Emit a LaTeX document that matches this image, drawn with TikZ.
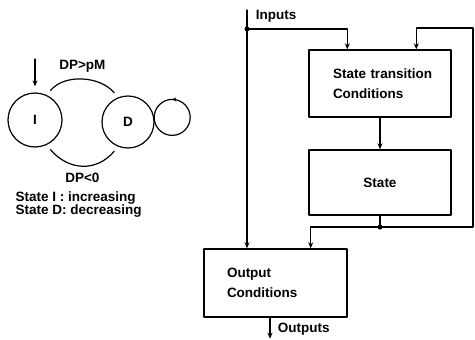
\documentclass[tikz,border=0pt]{standalone}
\usepackage{fontspec}
\setmainfont{Liberation Sans}
\usetikzlibrary{arrows.meta,decorations.markings}
\begin{document}
\begin{tikzpicture}[line join=round,line cap=round,x=1pt,y=1pt,>={Stealth[length=6pt,width=5pt]},line width=1.2pt,
	font=\fontsize{13.5}{20}\selectfont\bfseries,
	state/.style={draw,circle,inner sep=0pt},
	block/.style={draw,rectangle,line width=1.4pt}]
	\useasboundingbox (0,0) rectangle (475,-340);
	% state diagram
	\node[state,minimum size=54pt] (I) at (35,-120) {I};
	\node[state,minimum size=52pt] (D) at (128,-122) {D};
	\coordinate (init) at (35,-59);
	\draw[->,shorten >=6pt] (init)--(I.north);
	\draw[shorten >=6pt,shorten <=6pt] (I.65) to[out=50,in=130] node[above=4pt]{DP>pM} (D.112);
	\draw[shorten >=6pt,shorten <=6pt] (I.-65) to[out=-50,in=-130,looseness=1.2] node[below=4pt]{DP<0} (D.-112);
	\draw[postaction={decorate},decoration={markings,mark=at position 0.75 with {\arrow{Stealth[length=4pt,width=4pt]}}}]
		(D.10) arc[start angle=180,end angle=540,radius=18];
	\node[anchor=west,align=left,inner sep=0pt,font=\fontsize{13.5}{13}\selectfont\bfseries] (legend) at (15,-205) {State I : increasing\\State D: decreasing};
	% block diagram
	\node[block,minimum height=67pt,text width=94pt,inner xsep=24pt,align=left] (trans) at (380,-83.5) {\mbox{State transition}\\Conditions};
	\node[block,minimum width=142pt,minimum height=65pt] (st) at (380,-182.5) {State};
	\node[block,minimum height=68pt,text width=97pt,inner xsep=23pt,align=left] (out) at (275.5,-283) {Output\\Conditions};
	\coordinate (in) at (247,-10);
	\coordinate (j1) at (247,-29);
	\node[anchor=west] (inlabel) at (252,-16) {Inputs};
	\draw (in)--(j1);
	\draw[->] (j1) -| ([xshift=39pt]trans.north west);
	\draw[->] (j1)--(j1 |- out.north);
	\draw[->] (trans)--(st);
	\coordinate (j2) at (380,-227);
	\coordinate (fbr) at (473,-227);
	\coordinate (fbt) at (473,-28);
	\draw (st.south)--(j2);
	\draw[->] (j2) -| ([xshift=-37pt]out.north east);
	\draw[->] (j2)--(fbr)--(fbt) -| ([xshift=108pt]trans.north west);
	\fill (j1) circle (2.5pt);
	\fill (j2) circle (2.5pt);
	\draw[->] ([xshift=-5.5pt]out.south)--++(0,-21) coordinate (outend);
	\node[anchor=west] (outlabel) at (274,-329) {Outputs};
\end{tikzpicture}
\end{document}
